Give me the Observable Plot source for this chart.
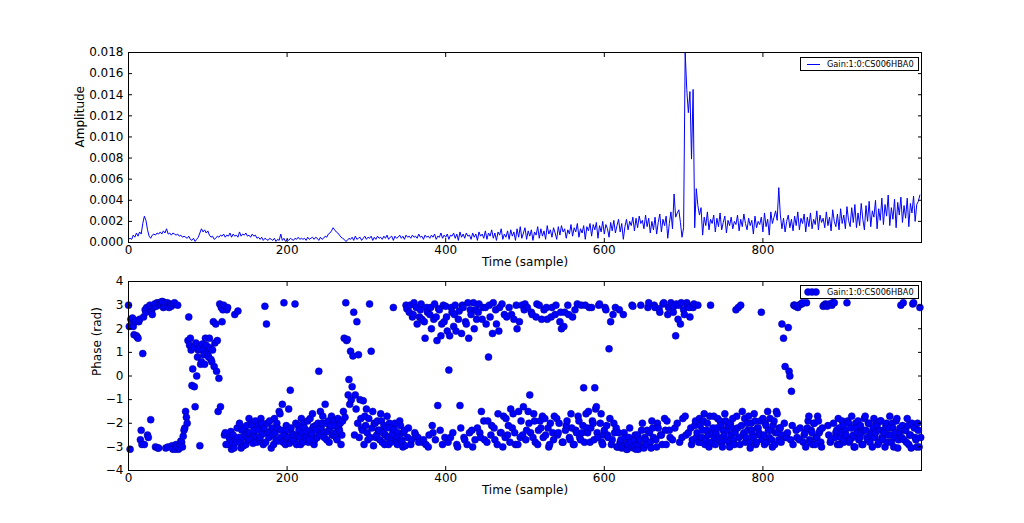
<!DOCTYPE html>
<html><head><meta charset="utf-8">
<script src="https://cdn.jsdelivr.net/npm/d3@7"></script>
<script src="https://cdn.jsdelivr.net/npm/@observablehq/plot@0.6"></script>
<style>
body{margin:0;background:#fff;font-family:"DejaVu Sans",sans-serif;}
#wrap{position:relative;width:1024px;height:523px;overflow:hidden;background:#fff;}
#wrap svg{display:block;}
.legend{position:absolute;border:1px solid #000;background:#fff;font-size:8.2px;line-height:12px;height:12px;box-sizing:content-box;}
.legend span{position:absolute;left:26px;top:0;white-space:nowrap;}
</style></head><body><div id="wrap"></div>
<script>
const seriesName = "Gain:1:0:CS006HBA0";
const sampleStep = 2;
// amplitude in units of 0.001, one value every 2 samples (0, 2, 4, ...)
const amplitudeMilli = [
0.3,0.4,0.3,0.7,0.5,0.9,0.6,1.0,0.8,1.8,
2.5,2.1,1.2,0.6,0.4,0.7,0.8,0.7,0.9,0.8,
1.0,0.8,1.1,0.9,1.3,0.8,0.9,0.7,0.9,0.8,
0.7,0.8,0.6,0.7,0.5,0.6,0.5,0.4,0.6,0.3,
0.2,0.4,0.1,0.3,0.5,0.9,1.3,1.0,1.2,0.9,
1.1,0.7,0.5,0.6,0.3,0.4,0.6,0.5,0.7,0.6,
0.8,0.5,0.7,0.6,0.9,0.5,0.8,0.6,0.7,0.5,
1.0,0.6,0.8,0.7,0.9,0.6,0.7,0.5,0.8,0.6,
0.7,0.4,0.5,0.3,0.5,0.2,0.4,0.3,0.2,0.4,
0.3,0.2,0.4,0.1,0.3,0.2,0.8,0.2,0.4,0.1,
0.3,0.2,0.4,0.3,0.2,0.4,0.3,0.5,0.3,0.4,
0.3,0.4,0.2,0.5,0.3,0.4,0.5,0.3,0.5,0.4,
0.2,0.5,0.3,0.4,0.6,0.5,0.8,0.9,1.1,1.4,
1.2,1.0,0.9,0.7,0.5,0.4,0.3,0.1,0.2,0.4,
0.3,0.5,0.2,0.6,0.3,0.4,0.5,0.2,0.4,0.6,
0.3,0.5,0.4,0.6,0.2,0.5,0.3,0.6,0.4,0.5,
0.3,0.6,0.4,0.7,0.3,0.5,0.6,0.2,0.6,0.4,
0.5,0.7,0.4,0.6,0.3,0.7,0.5,0.6,0.4,0.7,
0.5,0.6,0.4,0.8,0.5,0.6,0.3,0.7,0.5,0.6,
0.4,0.7,0.5,0.8,0.3,0.6,0.5,0.9,0.4,0.7,
0.5,0.8,0.3,0.7,0.6,0.9,0.4,0.8,0.2,1.0,
0.5,0.8,0.4,0.9,0.6,0.7,0.3,0.9,0.5,0.8,
0.2,1.0,0.6,0.8,0.4,1.1,0.3,0.9,0.6,1.2,
0.4,0.9,0.2,1.0,0.7,1.3,0.3,0.8,0.5,1.1,
0.3,1.2,0.6,1.0,0.2,1.3,0.5,1.5,0.4,0.9,
1.4,0.3,1.1,0.6,1.2,0.2,1.0,0.7,1.5,0.4,
1.3,0.6,1.1,0.3,1.6,0.8,1.2,0.5,1.4,0.9,
0.3,1.5,0.7,1.6,1.0,1.3,0.4,1.2,0.8,1.7,
0.6,1.4,1.0,1.8,0.5,1.3,0.9,1.6,0.3,1.5,
1.1,1.8,0.6,1.7,1.2,1.9,0.4,1.6,1.0,2.0,
0.8,1.7,1.3,0.5,1.9,1.1,2.1,0.9,1.6,2.2,
1.0,1.8,0.3,1.5,2.2,1.2,2.0,1.6,2.4,1.1,
2.3,1.4,2.5,1.8,2.1,1.3,2.6,1.5,2.3,0.9,
2.0,1.2,2.4,0.8,1.9,2.7,1.0,2.2,1.6,2.5,
0.4,1.8,2.9,1.3,4.6,2.4,2.8,3.1,1.9,0.5,
1.4,18.0,14.5,12.3,14.3,7.9,14.5,1.4,5.1,3.5,
2.6,3.3,0.7,2.4,1.6,2.9,1.2,2.2,1.8,2.6,
1.0,2.3,1.5,2.8,1.2,1.9,2.5,0.9,2.1,1.6,
2.4,1.3,2.0,1.7,2.6,1.1,2.2,1.5,2.7,1.8,
1.2,2.3,1.6,2.1,0.8,2.5,1.4,2.0,1.7,2.4,
1.0,2.8,1.5,2.2,0.7,2.9,1.8,2.4,3.0,2.1,
5.2,2.6,1.3,2.3,1.0,2.0,2.6,1.4,2.2,1.1,
2.5,1.6,2.9,1.2,2.3,1.8,2.7,1.0,2.4,1.5,
2.8,1.3,2.2,1.7,3.0,1.2,2.6,1.9,2.3,1.4,
2.9,1.6,2.4,1.1,3.1,2.0,1.5,2.7,1.2,3.2,
1.8,2.6,1.3,3.4,2.1,1.5,3.3,1.9,3.6,1.4,
2.8,1.6,3.7,2.2,1.2,3.5,2.0,3.9,1.5,3.0,
2.4,4.0,1.3,3.2,2.1,4.2,1.7,3.6,2.5,4.5,
1.6,3.3,2.2,4.1,1.4,3.8,2.6,4.3,1.9,3.5,
2.3,4.2,1.5,3.7,2.8,4.4,2.0,3.6,3.9,4.5
];
// phase in radians at even samples (0, 2, 4, ...)
const phaseEven = [
3.0,-3.1,2.4,2.1,2.3,1.7,1.6,2.4,-2.3,0.95,
-2.9,2.7,-2.5,2.85,-1.85,2.6,2.95,-3.0,3.1,-3.05,
3.05,3.15,2.9,3.1,3.0,-3.0,3.05,2.95,-3.1,3.1,
-2.9,3.0,-3.05,-2.75,-3.0,-2.3,-1.5,-2.0,2.5,1.6,
-0.4,1.2,-1.3,0.0,1.1,-2.95,0.6,1.1,0.5,1.3,
0.9,1.6,0.7,1.1,0.4,2.2,1.5,-0.1,-1.3,2.3,
3.0,-2.4,2.8,-2.9,-2.7,-3.1,-2.5,2.6,-2.8,2.75,
-2.0,-3.05,-2.6,-2.2,-2.9,-2.4,-1.8,-2.7,-2.1,-2.5,
-1.9,-2.8,-2.3,-2.6,-2.0,-2.9,2.95,2.2,-2.4,-1.9,
-3.05,-2.5,-1.8,-2.7,-2.2,-1.5,-2.6,-1.2,3.1,-2.9,
-2.3,-1.4,-0.6,-2.7,-2.5,3.05,-2.9,-2.1,-2.6,-1.8,
-2.8,-2.2,-2.5,-1.9,-2.7,-2.3,-1.6,-2.9,-2.1,-2.6,
0.2,-1.5,-2.0,-2.4,-1.2,-2.7,-1.9,-2.2,-1.7,-2.5,
-2.1,-2.6,-1.8,-2.3,-2.9,-1.9,1.6,3.1,1.55,-0.15,
1.05,-0.45,2.7,-0.8,2.3,0.9,-1.0,-2.2,-1.05,-1.7,
-1.4,-2.7,3.05,1.05,-1.5,-2.0,-2.6,-1.9,-2.3,-1.6,
-2.8,-2.1,-2.5,-1.7,-2.9,-2.2,-2.6,2.9,-2.0,-2.8,
-2.4,-1.9,-2.7,-3.0,-2.3,3.0,-2.6,2.7,-2.9,2.5,
3.1,-2.5,2.2,-2.8,2.8,2.4,-2.7,1.6,2.9,-3.0,
2.6,2.0,-2.4,3.05,2.5,-1.25,2.8,1.7,-2.9,2.3,
2.95,1.9,0.25,-2.6,2.7,2.1,3.0,-2.9,2.4,-1.25,
1.8,2.9,-2.7,2.2,3.1,-2.4,2.6,-3.0,2.0,2.8,
-2.2,3.05,-2.6,2.4,-1.9,2.9,-2.8,0.8,2.5,-2.1,
3.1,-2.7,2.2,-1.6,2.9,-2.4,-3.0,2.6,-1.8,-2.5,
2.9,-1.4,-2.2,2.4,-2.9,2.0,-1.5,-2.6,3.0,-1.3,
3.05,-2.3,-1.5,-0.8,2.7,-2.6,-1.9,2.5,-2.9,3.0,
-2.2,-1.7,2.8,-2.5,2.4,-3.0,-2.0,2.9,-2.7,2.6,
-1.8,-2.4,2.3,2.0,-2.8,2.7,-2.1,3.0,-2.6,-1.6,
2.5,-2.9,-2.3,3.05,-1.9,-2.7,-2.4,-0.5,3.0,-2.2,
-1.5,-2.8,2.9,-2.0,-0.5,-1.3,-2.6,3.05,-1.6,-2.9,
-2.3,2.8,-2.5,1.15,2.3,-2.7,-2.0,2.9,-3.0,-2.4,
-2.8,-3.05,2.6,-2.6,-3.1,-2.9,-2.2,-3.0,2.95,-2.7,
-3.1,-2.5,-2.9,3.0,-2.0,-3.05,-2.7,-2.3,3.1,-2.8,
-1.9,-2.6,2.9,-3.0,-2.2,2.7,-2.5,3.05,-1.8,-2.9,
2.6,-2.3,3.1,-2.7,2.95,1.7,-2.0,3.0,2.2,-2.6,
2.8,-1.7,3.1,-2.4,2.5,-2.9,2.9,-2.1,-2.6,3.0,
-1.8,-2.8,-2.3,-1.6,-2.7,-2.0,-3.0,3.0,-2.4,-1.7,
-2.9,-2.2,-2.6,-1.9,-2.8,-2.3,-1.6,-2.7,-2.1,-3.0,
-2.5,-1.8,-2.9,2.8,-2.2,-2.6,3.0,-1.5,-2.4,-2.8,
-2.0,-1.7,-3.05,-2.3,-2.6,-1.9,-2.8,-2.2,-2.5,2.7,
-1.8,-2.9,-2.1,-1.5,-2.6,-2.3,-3.0,-1.9,-2.4,-1.6,
-2.7,-2.2,2.2,1.6,0.4,-2.6,2.05,0.0,-0.65,-2.9,
3.0,-2.3,2.9,-2.7,3.05,3.1,-2.5,-3.0,-2.2,-1.7,
-2.8,-2.4,-2.0,-2.9,-2.6,-1.9,-2.3,-3.0,2.95,3.0,
3.0,-2.1,3.05,-2.7,3.1,3.1,-2.4,-2.9,-2.2,-2.6,
-1.9,-2.8,-2.3,3.1,-2.0,-2.7,-1.7,-2.5,-3.0,-2.2,
-1.9,-2.6,-2.4,-2.9,-1.8,-2.3,-2.7,-2.0,-2.5,-3.0,
-1.8,-2.4,-2.1,-2.8,-1.9,-2.6,-2.3,-3.0,-2.0,-2.5,
-1.7,-2.8,-2.2,-2.6,-1.9,-3.05,-2.4,3.0,-2.1,-2.7,
-2.3,-1.8,-2.9,-2.5,-2.0,3.1,-2.6,-3.0,-2.3,2.9
];
// phase in radians at odd samples (1, 3, 5, ...)
const phaseOdd = [
2.1,2.4,2.45,1.75,2.35,1.65,2.3,-2.7,-2.9,2.5,
2.8,2.9,-2.6,3.0,2.75,2.9,3.05,2.95,-3.05,3.1,
3.0,3.15,2.95,-3.05,3.1,2.9,3.0,-2.95,3.05,-3.1,
-3.0,-3.1,-2.9,-2.8,-2.55,-2.2,-1.75,1.5,1.3,1.1,
0.3,-0.45,1.4,0.8,1.15,0.5,1.35,0.9,1.6,1.0,
0.8,1.2,0.6,2.3,1.4,0.2,-1.5,3.05,2.9,2.8,
-2.5,-2.9,2.9,-2.6,-2.35,-2.8,-3.05,-2.7,-2.2,-2.6,
-2.8,-2.3,-2.95,-2.5,-2.1,-2.7,-2.4,-2.0,-2.85,-2.3,
-2.6,-2.1,-2.7,-1.8,-2.45,-2.2,-2.8,-2.0,-2.6,-2.35,
-2.2,-2.9,-2.4,-2.0,-2.75,-1.6,-2.3,-2.8,-2.5,-2.1,
-2.6,-2.85,-2.2,-2.45,-2.75,-2.0,-2.55,-2.3,-2.9,-2.4,
-2.0,-2.6,-2.35,-2.8,-1.8,-2.45,-2.15,-2.7,-2.3,-2.0,
-2.5,-2.2,-1.7,-2.6,-2.0,-2.35,-2.8,-2.1,-2.5,-1.9,
-2.4,-2.7,-2.2,-2.0,-2.5,-1.5,-1.75,1.5,-0.8,-1.2,
-1.0,0.85,-2.5,-1.4,-2.0,-2.6,-1.8,-2.3,-2.9,-2.1,
-2.4,-1.8,-2.6,-2.2,-2.95,-2.0,-2.5,-2.3,-2.7,-1.9,
-2.4,-2.9,-2.2,-2.6,-2.0,-2.8,-2.45,-2.25,-2.7,-2.9,
-2.6,-2.1,-2.8,-2.4,-2.95,2.85,-2.2,3.0,-2.7,2.6,
-2.4,2.9,-2.6,2.5,3.05,-2.8,2.3,-2.9,2.7,-2.5,
2.9,-2.1,2.4,-2.7,1.5,2.85,-2.3,2.2,3.0,-2.6,
2.5,-2.8,1.7,2.9,-2.4,2.6,1.9,-3.0,2.75,-2.2,
3.0,-2.6,2.3,-2.9,1.6,2.8,-2.3,3.1,-2.7,2.4,
2.7,-2.4,-1.5,2.9,-2.7,2.2,-1.9,3.0,-2.5,1.8,
-2.2,2.8,-2.9,1.9,-2.4,3.05,-1.7,-2.6,2.5,-2.1,
-2.8,2.6,-1.6,-2.4,3.0,-2.9,2.3,-1.9,-2.5,2.8,
-2.7,2.9,-2.0,-2.4,2.6,-1.6,-2.8,3.05,-2.3,-1.9,
2.4,-2.6,-1.8,2.9,-2.2,-2.9,2.5,-2.4,-1.7,3.0,
-2.5,-2.0,2.7,-2.8,2.1,-2.3,-1.9,2.6,-2.7,-2.2,
-2.9,2.8,-2.4,-1.7,-2.6,3.0,-2.1,-2.8,-1.6,-2.4,
2.9,-2.2,-1.9,-2.7,-1.4,-2.4,3.0,-2.0,-2.8,-2.5,
2.9,-2.1,-2.6,-1.8,-2.9,2.6,-2.4,-2.2,-3.0,2.8,
-2.7,-3.0,-2.4,-2.9,-3.1,-2.6,-2.8,3.0,-3.05,-2.5,
-2.9,-3.1,-2.7,-2.3,-3.0,-2.6,-2.9,2.9,-2.4,-3.05,
-2.2,3.0,-2.7,-2.0,2.85,-2.5,-2.9,3.1,-2.3,-1.9,
2.9,-2.6,3.0,2.7,-2.2,3.05,2.4,-2.8,3.1,-1.8,
2.6,-2.5,3.0,2.9,-2.2,-2.7,3.05,-1.9,-2.4,-2.8,
-2.1,-2.6,-1.9,-2.9,-2.3,-2.5,-1.7,-2.8,-2.2,-2.6,
-2.4,-1.8,-2.7,-2.1,-3.0,-2.5,-1.9,-2.3,-2.8,-2.0,
-2.2,-2.7,-2.4,-1.7,2.9,-2.9,-2.1,-2.5,-1.8,-2.6,
-2.3,-2.8,-2.0,-2.5,-1.6,-2.9,-2.2,-2.4,-1.9,-2.7,
-2.5,-2.0,-2.8,-2.3,-1.8,-2.7,-2.1,-2.9,-1.5,-2.4,
-2.2,-2.8,-2.5,-2.0,-2.6,-2.4,0.2,-2.7,-2.1,3.0,
2.95,-2.6,3.0,-2.2,3.05,-2.8,-2.4,3.1,-1.9,-2.7,
-2.3,-2.9,-2.0,-2.6,-1.7,-2.4,-2.8,-2.2,3.0,3.05,
2.95,-2.5,-2.8,3.0,-2.0,-2.6,-2.3,-1.8,-2.9,-2.4,
-2.1,-2.7,-2.5,-1.9,-2.8,-2.2,-2.6,-3.0,-2.0,-2.4,
-2.7,-2.1,-2.9,-2.3,-1.7,-2.6,-2.0,-2.8,-2.4,-2.2,
-2.6,-2.0,-2.9,-2.3,-1.9,-2.7,-2.4,-2.1,-2.8,-2.2,
-2.5,-2.0,-3.0,-2.4,-1.8,-2.7,-2.2,-2.6,3.1,-2.3,
-2.8,-2.1,-2.5,-3.05,3.05,-2.2,-2.7,-2.0,-3.0,-2.6
];
const xTicks = [0,200,400,600,800];
const ampTicks = [0,0.002,0.004,0.006,0.008,0.010,0.012,0.014,0.016,0.018];
const phaseTicks = [-4,-3,-2,-1,0,1,2,3,4];
const xLabel = "Time (sample)";
const ampLabel = "Amplitude";
const phaseLabel = "Phase (rad)";

const ampData = amplitudeMilli.map((v,i)=>({sample:i*sampleStep, amp:v/1000}));
const phaseData = [
  ...phaseEven.map((v,i)=>({sample:i*sampleStep, phase:v})),
  ...phaseOdd.map((v,i)=>({sample:i*sampleStep+1, phase:v}))
].sort((a,b)=>a.sample-b.sample);

const blue = "#0000ff";
const base = {
  width:1024, marginLeft:128, marginRight:103,
  style:{fontFamily:"DejaVu Sans, sans-serif", fontSize:"12px", background:"white", color:"black", overflow:"visible"}
};
const axes = (yTicks, yFmt) => [
  Plot.frame({stroke:"black", strokeWidth:1}),
  Plot.axisX({anchor:"bottom", ticks:xTicks, tickSize:-4, tickPadding:7, label:null, fontSize:12}),
  Plot.axisX({anchor:"top", ticks:xTicks, tickSize:-4, tickFormat:()=>"", label:null}),
  Plot.axisY({anchor:"left", ticks:yTicks, tickSize:-4, tickPadding:9, tickFormat:yFmt, label:null, fontSize:12}),
  Plot.axisY({anchor:"right", ticks:yTicks, tickSize:-4, tickFormat:()=>"", label:null})
];

const topChart = Plot.plot({
  ...base, height:276, marginTop:52, marginBottom:34,
  x:{domain:[0,1000]}, y:{domain:[0,0.018]},
  marks:[
    Plot.line(ampData,{x:"sample", y:"amp", stroke:blue, strokeWidth:1}),
    ...axes(ampTicks, d=>d.toFixed(3)),
    Plot.text([xLabel],{text:d=>d, frameAnchor:"bottom", dy:23, fontSize:12}),
    Plot.text([ampLabel],{text:d=>d, frameAnchor:"left", dx:-48, rotate:-90, fontSize:12})
  ]
});
const bottomChart = Plot.plot({
  ...base, height:247, marginTop:5, marginBottom:53,
  x:{domain:[0,1000]}, y:{domain:[-4,4]},
  marks:[
    Plot.dot(phaseData,{x:"sample", y:"phase", r:3.5, fill:blue, stroke:"#00008b", strokeWidth:0.5}),
    ...axes(phaseTicks, d=>d3.format("d")(d)),
    Plot.text([xLabel],{text:d=>d, frameAnchor:"bottom", dy:23, fontSize:12}),
    Plot.text([phaseLabel],{text:d=>d, frameAnchor:"left", dx:-31, rotate:-90, fontSize:12})
  ]
});
const wrap = document.getElementById("wrap");
wrap.appendChild(topChart);
wrap.appendChild(bottomChart);

function legend(top, marker){
  const d = document.createElement("div");
  d.className = "legend";
  d.style.left = "800px"; d.style.top = top + "px"; d.style.width = "117px";
  d.innerHTML = marker + `<span>${seriesName}</span>`;
  wrap.appendChild(d);
}
legend(57, `<svg width="24" height="12" style="position:absolute;left:0;top:0"><line x1="6" x2="19" y1="6.5" y2="6.5" stroke="${blue}" stroke-width="1"/></svg>`);
legend(285, `<svg width="24" height="12" style="position:absolute;left:0;top:0"><circle cx="7" cy="6" r="3.5" fill="${blue}" stroke="#00008b" stroke-width="0.5"/><circle cx="11" cy="6" r="3.5" fill="${blue}" stroke="#00008b" stroke-width="0.5"/><circle cx="15" cy="6" r="3.5" fill="${blue}" stroke="#00008b" stroke-width="0.5"/></svg>`);
</script></body></html>
